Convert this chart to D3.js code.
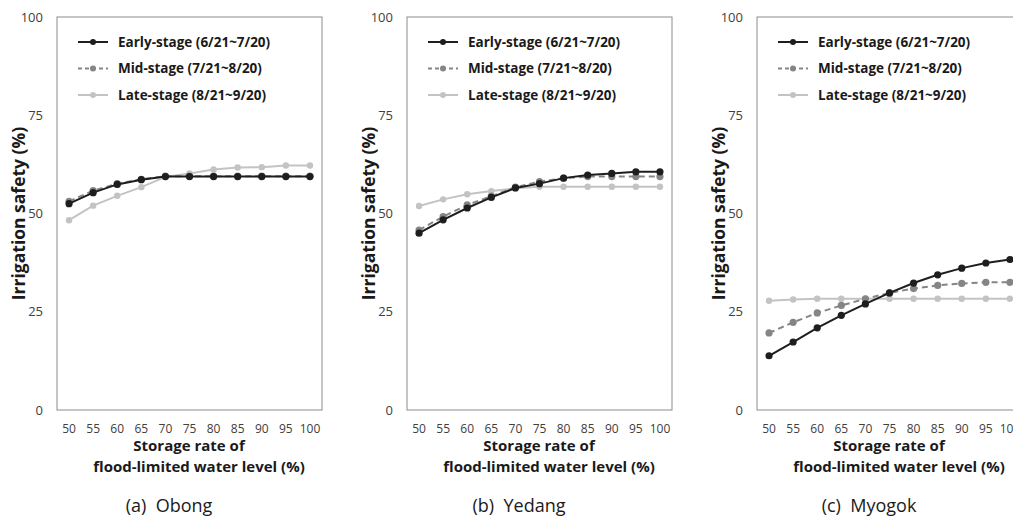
<!DOCTYPE html>
<html>
<head>
<meta charset="utf-8">
<script src="https://cdn.jsdelivr.net/npm/d3@7"></script>
<style>
  body { margin: 0; background: #fff; }
  svg { display: block; font-family: "Open Sans", "Noto Sans", sans-serif; }
</style>
</head>
<body>
<div id="chart"></div>
<script>
// ---- data ----
const storageRates = ["50", "55", "60", "65", "70", "75", "80", "85", "90", "95", "100"];
const yTicks = [0, 25, 50, 75, 100];
const stageNames = ["Early-stage (6/21~7/20)", "Mid-stage (7/21~8/20)", "Late-stage (8/21~9/20)"];
const panelTitles = ["(a)  Obong", "(b)  Yedang", "(c)  Myogok"];

const obongEarly = [52.5, 55.3, 57.4, 58.6, 59.4, 59.4, 59.4, 59.4, 59.4, 59.4, 59.4];
const obongMid   = [53.1, 55.8, 57.6, 58.7, 59.5, 59.5, 59.5, 59.5, 59.5, 59.5, 59.5];
const obongLate  = [48.3, 52.0, 54.5, 56.7, 59.3, 60.2, 61.2, 61.7, 61.8, 62.2, 62.2];

const yedangEarly = [45.0, 48.4, 51.4, 54.1, 56.5, 57.6, 59.0, 59.8, 60.2, 60.6, 60.6];
const yedangMid   = [45.8, 49.2, 52.2, 54.4, 56.7, 58.1, 59.0, 59.4, 59.4, 59.4, 59.4];
const yedangLate  = [51.9, 53.6, 54.9, 55.7, 56.4, 56.8, 56.8, 56.8, 56.8, 56.8, 56.8];

const myogokEarly = [13.8, 17.3, 20.9, 24.1, 27.0, 29.8, 32.3, 34.4, 36.1, 37.4, 38.3];
const myogokMid   = [19.6, 22.3, 24.7, 26.6, 28.3, 29.8, 30.9, 31.7, 32.2, 32.5, 32.5];
const myogokLate  = [27.8, 28.1, 28.3, 28.3, 28.3, 28.3, 28.3, 28.3, 28.3, 28.3, 28.3];

const panels = [
  { title: panelTitles[0], series: [obongEarly, obongMid, obongLate] },
  { title: panelTitles[1], series: [yedangEarly, yedangMid, yedangLate] },
  { title: panelTitles[2], series: [myogokEarly, myogokMid, myogokLate] }
];

// ---- settings ----
const W = 1013, H = 519;
const stageColor = ["#1e1e1e", "#858585", "#c3c3c3"];
const stageDash = [null, "6,4", null];
const stageR = [3.6, 3.6, 3.2];
const panelLeft = [57, 407, 757];
const boxW = 265, boxTop = 17, boxBottom = 410;

const svg = d3.select("#chart").append("svg")
  .attr("width", W).attr("height", H);

const y = d3.scaleLinear().domain([0, 100]).range([boxBottom, boxTop]);

panels.forEach(function(p, i) {
  const left = panelLeft[i];
  const x = d3.scaleBand().domain(storageRates).range([left, left + boxW]);
  const cx = d => x(d) + x.bandwidth() / 2;
  const g = svg.append("g");

  // frame
  g.append("rect")
    .attr("x", left).attr("y", boxTop)
    .attr("width", boxW).attr("height", boxBottom - boxTop)
    .attr("fill", "none").attr("stroke", "#8c8c8c").attr("stroke-width", 1);

  // y axis labels
  const yAxis = d3.axisLeft(y).tickValues(yTicks).tickSize(0).tickPadding(14);
  const ya = g.append("g").attr("transform", `translate(${left},0)`).call(yAxis);
  ya.select(".domain").remove();
  ya.selectAll("text").attr("font-size", 13).attr("fill", "#404040")
    .attr("font-family", "Open Sans, sans-serif");

  // x axis labels
  const xAxis = d3.axisBottom(x).tickSize(0).tickPadding(14);
  const xa = g.append("g").attr("transform", `translate(0,${boxBottom})`).call(xAxis);
  xa.select(".domain").remove();
  xa.selectAll("text").attr("font-size", 12).attr("fill", "#404040")
    .attr("font-family", "Open Sans, sans-serif");

  // axis titles
  g.append("text")
    .attr("transform", `translate(${left - 38},${(boxTop + boxBottom) / 2}) rotate(-90)`)
    .attr("text-anchor", "middle").attr("dy", "0.35em")
    .attr("font-size", 17.5).attr("font-weight", "bold").attr("fill", "#1a1a1a")
    .text("Irrigation safety (%)");
  g.append("text")
    .attr("x", left + 132).attr("y", 451)
    .attr("text-anchor", "middle")
    .attr("font-size", 15).attr("font-weight", "bold").attr("fill", "#1a1a1a")
    .text("Storage rate of");
  g.append("text")
    .attr("x", left + 142).attr("y", 472)
    .attr("text-anchor", "middle")
    .attr("font-size", 15).attr("font-weight", "bold").attr("fill", "#1a1a1a")
    .text("flood-limited water level (%)");
  g.append("text")
    .attr("x", left + 112).attr("y", 512)
    .attr("text-anchor", "middle")
    .style("white-space", "pre")
    .attr("font-size", 18).attr("fill", "#1a1a1a")
    .text(p.title);

  // series, late drawn first so early sits on top
  [2, 1, 0].forEach(function(s) {
    const vals = p.series[s];
    const line = d3.line().x((d, k) => cx(storageRates[k])).y(d => y(d));
    g.append("path").datum(vals)
      .attr("d", line)
      .attr("fill", "none")
      .attr("stroke", stageColor[s])
      .attr("stroke-width", 2)
      .attr("stroke-dasharray", stageDash[s]);
    g.selectAll(".pt" + s).data(vals).enter().append("circle")
      .attr("class", "pt" + s)
      .attr("cx", (d, k) => cx(storageRates[k]))
      .attr("cy", d => y(d))
      .attr("r", stageR[s])
      .attr("fill", stageColor[s]);
  });

  // legend
  const lg = g.append("g").attr("transform", `translate(${left + 21},42)`);
  stageNames.forEach(function(name, s) {
    const row = lg.append("g").attr("transform", `translate(0,${s * 26.5})`);
    row.append("line")
      .attr("x1", 0).attr("x2", 30).attr("y1", 0).attr("y2", 0)
      .attr("stroke", stageColor[s]).attr("stroke-width", 2)
      .attr("stroke-dasharray", stageDash[s] ? "4,3" : null);
    row.append("circle").attr("cx", 15).attr("cy", 0).attr("r", 3)
      .attr("fill", stageColor[s]);
    row.append("text")
      .attr("x", 40).attr("y", 0).attr("dy", "0.35em")
      .attr("font-size", 13.5).attr("font-weight", "bold").attr("fill", "#1a1a1a")
      .text(name);
  });
});
</script>
</body>
</html>
